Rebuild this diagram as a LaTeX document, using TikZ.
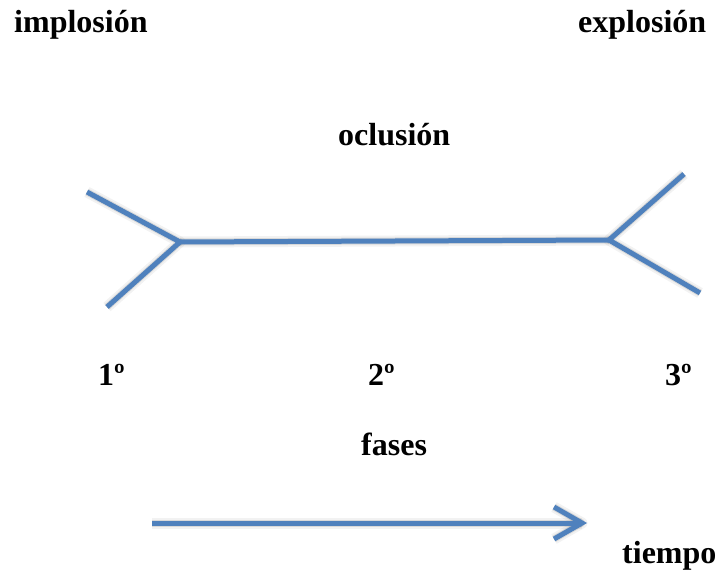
\documentclass[tikz,border=0pt]{standalone}
\usepackage{fontspec}
\setmainfont{Liberation Serif}
\usetikzlibrary{arrows.meta}
\definecolor{lineblue}{RGB}{79,129,189}
\tikzset{
  lbl/.style={font=\fontsize{32}{38}\selectfont\bfseries, inner sep=0pt, anchor=base west},
  bluel/.style={draw=lineblue, line width=5pt, line cap=butt, line join=miter},
  shad/.style={draw=black, line width=7pt, opacity=0.10, line join=round},
  shadb/.style={draw=black, line width=11pt, opacity=0.05, line join=round}
}
\begin{document}
\begin{tikzpicture}[x=1pt,y=-1pt]
\useasboundingbox (0,0) rectangle (727,575);
% points
\coordinate (ul) at (87,192);
\coordinate (ll) at (107,307);
\coordinate (jl) at (180,242);
\coordinate (jr) at (609,240);
\coordinate (ur) at (684,174);
\coordinate (lr) at (700,293);
\coordinate (as) at (152,523);
\coordinate (ae) at (582,523);
% shadows
\begin{scope}[shift={(3,5)}]
  \draw[shadb] (ul) -- (jl) -- (ll);
  \draw[shadb] (jl) -- (jr);
  \draw[shadb] (ur) -- (jr) -- (lr);
  \draw[shadb] (as) -- (ae);
  \draw[shadb] ([shift={(-28,-16)}]ae) -- (ae) -- ([shift={(-28,16)}]ae);
  \draw[shad] (ul) -- (jl) -- (ll);
  \draw[shad] (jl) -- (jr);
  \draw[shad] (ur) -- (jr) -- (lr);
  \draw[shad] (as) -- (ae);
  \draw[shad] ([shift={(-28,-16)}]ae) -- (ae) -- ([shift={(-28,16)}]ae);
\end{scope}
% lines
\draw[bluel] (ul) -- (jl) -- (ll);
\draw[bluel] (jl) -- (jr);
\draw[bluel] (ur) -- (jr) -- (lr);
\draw[bluel] (as) -- (ae);
\draw[bluel] ([shift={(-28,-16)}]ae) -- (ae) -- ([shift={(-28,16)}]ae);
% labels
\node[lbl] (imp) at (14,33) {implosión};
\node[lbl] (exp) at (578,33) {explosión};
\node[lbl] (ocl) at (338,145) {oclusión};
\node[lbl] (p1) at (98,385) {1º};
\node[lbl] (p2) at (368,385) {2º};
\node[lbl] (p3) at (665,385) {3º};
\node[lbl] (fas) at (361,455) {fases};
\node[lbl] (tie) at (622,563) {tiempo};
\end{tikzpicture}
\end{document}
